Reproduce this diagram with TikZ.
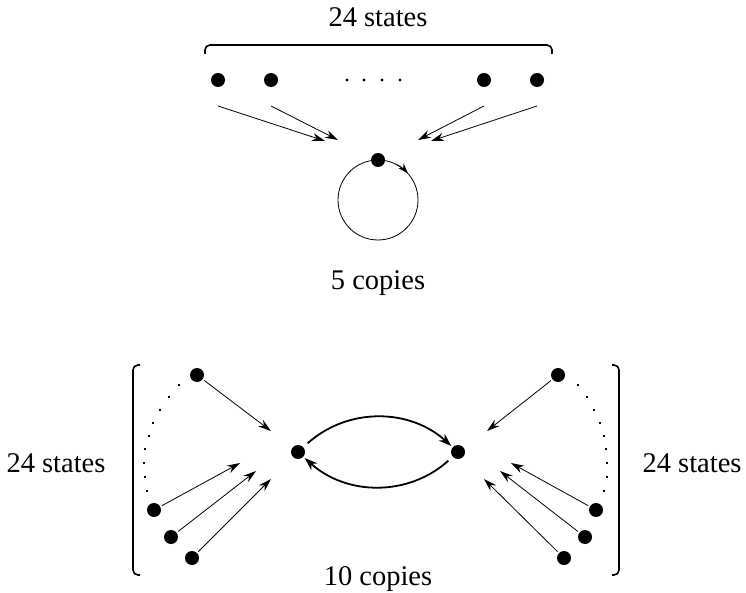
\documentclass[tikz,border=0pt]{standalone}
\usepackage{fontspec}
\setmainfont{Liberation Serif}
\usetikzlibrary{arrows.meta}
\begin{document}
\begin{tikzpicture}[x=1pt,y=-1pt,
  st/.style={circle,fill=black,inner sep=0pt,minimum size=14pt,outer sep=2pt},
  sm/.style={circle,fill=black,inner sep=0pt,minimum size=3.2pt},
  sq/.style={rectangle,fill=black,inner sep=0pt,minimum size=2.8pt},
  arr/.style={-{Stealth[length=13pt,width=8pt]},line width=0.8pt},
  barr/.style={-{Stealth[length=13pt,width=9pt]},line width=1.8pt},
  brk/.style={line width=1.6pt,rounded corners=5pt},
  lbl/.style={font=\fontsize{28.5}{30}\selectfont,anchor=base,inner sep=0pt}]
\useasboundingbox (0,0) rectangle (746,593);
% ---------- top part ----------
\node[lbl] (t1) at (378,27) {24 states};
\draw[brk] (205,54) -- (205,45) -- (552,45) -- (552,54);
\node[st] (u1) at (218,80) {};
\node[st] (u2) at (271,80) {};
\node[st] (u3) at (484,80) {};
\node[st] (u4) at (537,80) {};
\node[sm] (e1) at (347,80) {};
\node[sm] (e2) at (364,80) {};
\node[sm] (e3) at (382,80) {};
\node[sm] (e4) at (400,80) {};
\coordinate (s1) at (218,106); \coordinate (f1) at (325,141);
\coordinate (s2) at (271,106); \coordinate (f2) at (338,140);
\coordinate (s3) at (484,106); \coordinate (f3) at (418,140);
\coordinate (s4) at (537,106); \coordinate (f4) at (431,141);
\draw[arr] (s1) -- (f1);
\draw[arr] (s2) -- (f2);
\draw[arr] (s3) -- (f3);
\draw[arr] (s4) -- (f4);
\coordinate (lc) at (378,200);
\draw[line width=0.8pt] (lc) circle[radius=40];
\draw[-{Stealth[length=10pt,width=7pt]},line width=0.8pt] (lc) ++(-62:40) arc[start angle=-62,end angle=-42,radius=40];
\node[st] (c0) at (378,160) {};
\node[lbl] (t2) at (378,290) {5 copies};
% ---------- bottom part ----------
\node[lbl] (t3) at (56,472) {24 states};
\node[lbl] (t4) at (692,472) {24 states};
\node[lbl] (t5) at (378,585) {10 copies};
\draw[brk] (140,365) -- (133,365) -- (133,575) -- (140,575);
\draw[brk] (612,365) -- (619,365) -- (619,575) -- (612,575);
\node[st] (L) at (298,452) {};
\node[st] (R) at (458,452) {};
\draw[barr,shorten <=4pt] (L) to[bend left=42] (R);
\draw[barr,shorten <=4pt] (R) to[bend left=42] (L);
% left group
\node[st] (la) at (197,375) {};
\node[st] (lb) at (154,510) {};
\node[st] (lc2) at (171,537) {};
\node[st] (ld) at (192,558) {};
\coordinate (la') at (271,431);
\coordinate (lb') at (240,463);
\coordinate (lc') at (256,471);
\coordinate (ld') at (271,479);
\draw[arr] (la) -- (la');
\draw[arr] (lb) -- (lb');
\draw[arr] (lc2) -- (lc');
\draw[arr] (ld) -- (ld');
\foreach \p [count=\i] in {(179,385),(169,397),(160,410),(153,423),(149,436),(145,449),(144,463),(145,477),(147,491)}
  \node[sq] (ld\i) at \p {};
% right group
\node[st] (ra) at (558,375) {};
\node[st] (rb) at (596,510) {};
\node[st] (rc) at (585,537) {};
\node[st] (rd) at (564,558) {};
\coordinate (ra') at (487,431);
\coordinate (rb') at (511,463);
\coordinate (rc') at (500,471);
\coordinate (rd') at (484,479);
\draw[arr] (ra) -- (ra');
\draw[arr] (rb) -- (rb');
\draw[arr] (rc) -- (rc');
\draw[arr] (rd) -- (rd');
\foreach \p [count=\i] in {(578,385),(587,397),(594,410),(600,423),(604,436),(606,449),(607,463),(607,477),(604,491)}
  \node[sq] (rd\i) at \p {};
\end{tikzpicture}
\end{document}
